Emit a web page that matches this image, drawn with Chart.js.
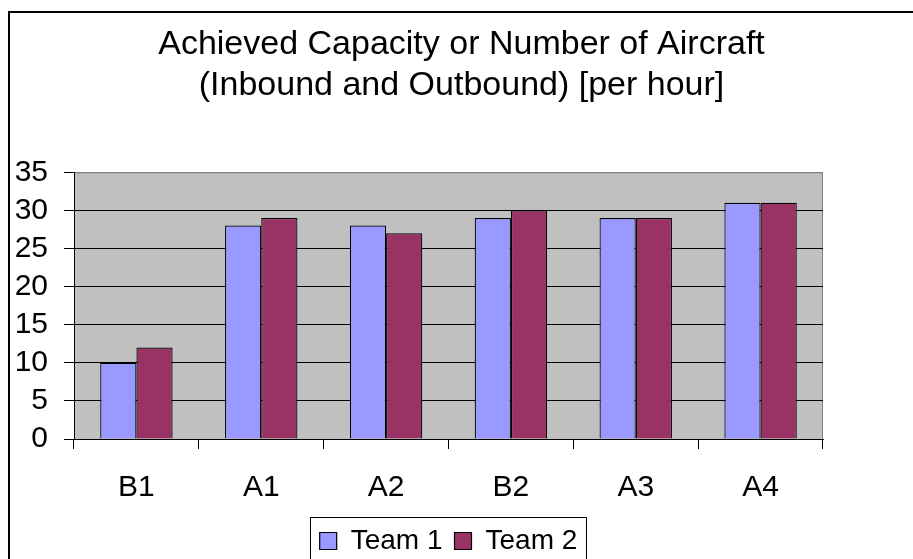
<!DOCTYPE html>
<html>
<head>
<meta charset="utf-8">
<title>Achieved Capacity</title>
<script src="https://cdn.jsdelivr.net/npm/chart.js@4.4.1/dist/chart.umd.min.js"></script>
<style>
    html, body {
        margin: 0;
        padding: 0;
        background: #fff;
        overflow: hidden;
    }
    #wrap {
        position: relative;
        width: 913px;
        height: 565px;
    }
</style>
</head>
<body>
<div id="wrap"><canvas id="chart"></canvas></div>
<script>
// Chart data
const runs = ['B1', 'A1', 'A2', 'B2', 'A3', 'A4'];
const team1 = [10, 28, 28, 29, 29, 31];
const team2 = [12, 29, 27, 30, 29, 31];
const yTicks = [0, 5, 10, 15, 20, 25, 30, 35];

const FONT = '"Liberation Sans", Arial, sans-serif';

// Grey plot area + outer frame + legend box, Excel style
const excelLook = {
    id: 'excelLook',
    beforeDraw(chart) {
        const { ctx, chartArea: a } = chart;
        ctx.save();
        ctx.fillStyle = '#C0C0C0';
        ctx.fillRect(a.left, a.top, a.right - a.left, a.bottom - a.top);
        ctx.strokeStyle = '#808080';
        ctx.lineWidth = 1;
        ctx.strokeRect(a.left + 0.5, a.top + 0.5, a.right - a.left - 1, a.bottom - a.top);
        ctx.restore();
    },
    afterDraw(chart) {
        const { ctx } = chart;
        ctx.save();
        // outer chart frame (only top and left are inside the picture)
        ctx.strokeStyle = '#000';
        ctx.lineWidth = 2;
        ctx.beginPath();
        ctx.moveTo(9, chart.height + 10);
        ctx.lineTo(9, 12);
        ctx.lineTo(chart.width + 10, 12);
        ctx.stroke();

        // legend border
        const boxes = chart.legend.legendHitBoxes;
        if (boxes && boxes.length) {
            const first = boxes[0];
            const last = boxes[boxes.length - 1];
            const left = Math.round(first.left - 10) + 0.5;
            const right = Math.round(last.left + last.width + 9) + 0.5;
            const top = Math.round(first.top - 10) + 0.5;
            ctx.strokeStyle = '#000';
            ctx.lineWidth = 1;
            ctx.strokeRect(left, top, right - left, chart.height - top + 20);
        }
        ctx.restore();
    }
};

const chart = new Chart(document.getElementById('chart'), {
    type: 'bar',
    data: {
        labels: runs,
        datasets: [
            {
                label: 'Team 1',
                data: team1,
                backgroundColor: '#9999FF',
                borderColor: '#000',
                borderWidth: 1.2
            },
            {
                label: 'Team 2',
                data: team2,
                backgroundColor: '#993366',
                borderColor: '#000',
                borderWidth: 1.2
            }
        ]
    },
    options: {
        responsive: true,
        maintainAspectRatio: false,
        animation: false,
        events: [],
        layout: {
            padding: { left: 10, right: 0, top: 0, bottom: 0 }
        },
        datasets: {
            bar: {
                categoryPercentage: 0.58,
                barPercentage: 1
            }
        },
        plugins: {
            title: {
                display: true,
                text: ['Achieved Capacity or Number of Aircraft', '(Inbound and Outbound) [per hour]'],
                color: '#000',
                font: { family: FONT, size: 34, weight: 'normal', lineHeight: 1.21 },
                padding: { top: 24, bottom: 66 }
            },
            legend: {
                display: true,
                position: 'bottom',
                fullSize: false,
                labels: {
                    color: '#000',
                    font: { family: FONT, size: 28 },
                    boxWidth: 17,
                    boxHeight: 17,
                    padding: 12
                }
            },
            tooltip: { enabled: false }
        },
        scales: {
            x: {
                grid: {
                    offset: true,
                    drawOnChartArea: false,
                    drawTicks: true,
                    tickLength: 10,
                    color: '#000'
                },
                border: { display: true, color: '#000', width: 1 },
                ticks: {
                    color: '#000',
                    font: { family: FONT, size: 30, lineHeight: 1.2 },
                    padding: 21,
                    maxRotation: 0,
                    autoSkip: false
                },
                afterFit(scale) {
                    scale.height = 76;
                }
            },
            y: {
                min: 0,
                max: 35,
                afterBuildTicks(scale) {
                    scale.ticks = yTicks.map(v => ({ value: v }));
                },
                grid: {
                    color: (c) => (c.tick && c.tick.value === 35 ? '#808080' : '#000'),
                    tickColor: '#000',
                    tickLength: 10
                },
                border: { display: true, color: '#000', width: 1 },
                ticks: {
                    color: '#000',
                    font: { family: FONT, size: 30 },
                    padding: 16,
                    autoSkip: false
                },
                afterFit(scale) {
                    scale.width = 64;
                }
            },
            // empty axis on the right, only keeps the plot narrower than the title
            y2: {
                position: 'right',
                display: true,
                grid: { display: false, drawTicks: false },
                border: { display: false },
                ticks: { display: false },
                afterFit(scale) {
                    scale.width = 90;
                }
            }
        }
    },
    plugins: [excelLook]
});
</script>
</body>
</html>
